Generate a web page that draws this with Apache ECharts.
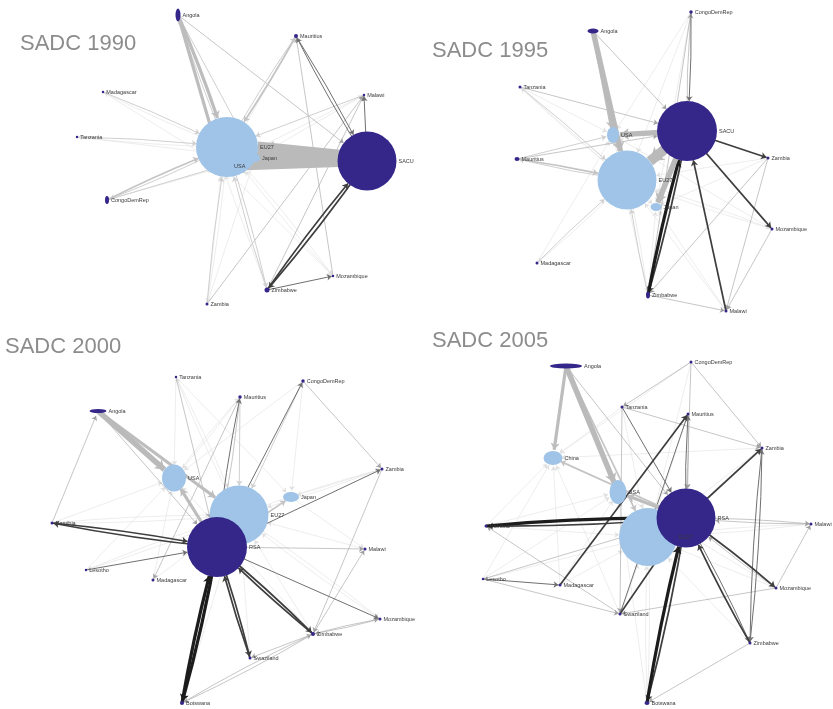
<!DOCTYPE html>
<html>
<head>
<meta charset="utf-8">
<script src="https://cdn.jsdelivr.net/npm/echarts@6/dist/echarts.min.js"></script>
<style>
  html, body { margin: 0; padding: 0; background: #ffffff; }
  #chart { width: 833px; height: 709px; }
</style>
</head>
<body>
<div id="chart"></div>
<script>
// Trade networks of the SADC region, four snapshot years.
const years = ['SADC 1990', 'SADC 1995', 'SADC 2000', 'SADC 2005'];

// Partners outside the region (drawn light blue); all others are SADC members.
const externalPartners = ['EU27', 'USA', 'Japan', 'China'];

// Node layout per year: [name, x, y, trade size (w, h)]
const nodes1990 = [
  ['EU27', 227, 147, 62, 60], ['USA', 222, 166, 20, 20], ['Japan', 255, 158, 10, 8],
  ['SACU', 367, 161, 59, 59], ['Angola', 178, 15, 5, 13], ['Mauritius', 296, 36, 4, 4],
  ['Madagascar', 103, 92, 2.5, 2.5], ['Malawi', 364, 95, 2.5, 2.5], ['Tanzania', 77, 137, 2.5, 2.5],
  ['CongoDemRep', 107, 200, 4, 8], ['Zimbabwe', 267, 290, 5, 5], ['Mozambique', 333, 276, 2.5, 2.5],
  ['Zambia', 207, 304, 3, 3]
];
const nodes1995 = [
  ['EU27', 207, 180, 59, 59], ['USA', 193, 135, 12, 16], ['Japan', 236, 207, 11, 8],
  ['SACU', 267, 131, 60, 60], ['Angola', 173, 31, 11, 5], ['CongoDemRep', 271, 12, 3.5, 3.5],
  ['Tanzania', 100, 87, 3, 3], ['Mauritius', 97, 159, 5, 4], ['Zambia', 348, 158, 3, 3],
  ['Mozambique', 352, 229, 3, 3], ['Madagascar', 117, 263, 3, 3], ['Zimbabwe', 228, 295, 4, 7],
  ['Malawi', 306, 311, 3, 3]
];
const nodes2000 = [
  ['EU27', 239, 195, 59, 59], ['RSA', 217, 227, 60, 60], ['USA', 174, 158, 24, 27],
  ['Japan', 291, 177, 16, 10], ['Angola', 98, 91, 17, 4], ['Tanzania', 176, 57, 2.5, 2.5],
  ['CongoDemRep', 303, 61, 3.5, 3.5], ['Mauritius', 240, 77, 3.5, 3.5], ['Zambia', 382, 149, 3, 3],
  ['Namibia', 52, 203, 3, 3], ['Malawi', 365, 229, 3, 3], ['Lesotho', 86, 250, 2.5, 2.5],
  ['Madagascar', 153, 260, 3, 3], ['Mozambique', 380, 299, 3, 3], ['Zimbabwe', 313, 314, 4, 4],
  ['Swaziland', 250, 338, 3, 3], ['Botswana', 182, 383, 4, 4]
];
const nodes2005 = [
  ['EU27', 228, 217, 58, 58], ['RSA', 266, 198, 59, 59], ['USA', 198, 172, 17, 24],
  ['China', 133, 138, 19, 14], ['Angola', 146, 46, 32, 5], ['CongoDemRep', 271, 42, 3, 3],
  ['Tanzania', 202, 87, 3, 3], ['Mauritius', 268, 94, 3, 3], ['Zambia', 342, 128, 3, 3],
  ['Namibia', 66, 206, 3, 3], ['Malawi', 391, 204, 3, 3], ['Lesotho', 63, 259, 2.5, 2.5],
  ['Madagascar', 140, 265, 3, 3], ['Mozambique', 356, 268, 3, 3], ['Swaziland', 200, 294, 3, 3],
  ['Zimbabwe', 330, 323, 3, 3], ['Botswana', 227, 383, 5, 4]
];

// Trade flows: [exporter, importer, weight class 1..7]
const links1990 = [
  ['SACU', 'EU27', 7], ['SACU', 'USA', 6], ['SACU', 'Japan', 5],
  ['Angola', 'EU27', 4], ['Angola', 'USA', 4], ['Angola', 'Japan', 2], ['Angola', 'SACU', 1],
  ['EU27', 'Angola', 2],
  ['Mauritius', 'EU27', 3], ['EU27', 'Mauritius', 2], ['Mauritius', 'USA', 1],
  ['Mauritius', 'SACU', 2], ['SACU', 'Mauritius', 2],
  ['Madagascar', 'EU27', 2], ['EU27', 'Madagascar', 1], ['Madagascar', 'USA', 1],
  ['Tanzania', 'EU27', 2], ['EU27', 'Tanzania', 1], ['Tanzania', 'Japan', 1],
  ['CongoDemRep', 'EU27', 3], ['EU27', 'CongoDemRep', 2], ['CongoDemRep', 'USA', 2], ['CongoDemRep', 'Japan', 1],
  ['Malawi', 'EU27', 2], ['Malawi', 'USA', 1], ['SACU', 'Malawi', 2], ['Japan', 'Malawi', 1],
  ['Zimbabwe', 'EU27', 2], ['EU27', 'Zimbabwe', 2], ['Zimbabwe', 'USA', 1],
  ['Zimbabwe', 'SACU', 3], ['SACU', 'Zimbabwe', 3],
  ['Zimbabwe', 'Mozambique', 2], ['Zimbabwe', 'Malawi', 1],
  ['Zambia', 'EU27', 2], ['EU27', 'Zambia', 1], ['Zambia', 'USA', 1], ['Zambia', 'Japan', 1], ['Zambia', 'Malawi', 1],
  ['Mozambique', 'EU27', 1], ['EU27', 'Mozambique', 1], ['USA', 'Mozambique', 1], ['Mozambique', 'Mauritius', 1]
];
const links1995 = [
  ['SACU', 'EU27', 6], ['SACU', 'USA', 5], ['SACU', 'Japan', 5],
  ['Angola', 'EU27', 5], ['Angola', 'USA', 4], ['Angola', 'SACU', 1],
  ['CongoDemRep', 'SACU', 2], ['SACU', 'CongoDemRep', 1], ['CongoDemRep', 'EU27', 1],
  ['CongoDemRep', 'USA', 1], ['CongoDemRep', 'Japan', 1], ['CongoDemRep', 'Zimbabwe', 1],
  ['Tanzania', 'SACU', 1], ['Tanzania', 'EU27', 2], ['EU27', 'Tanzania', 1], ['Tanzania', 'USA', 1], ['Tanzania', 'Japan', 1],
  ['Mauritius', 'EU27', 3], ['EU27', 'Mauritius', 2], ['Mauritius', 'USA', 2], ['Mauritius', 'SACU', 1],
  ['SACU', 'Zambia', 3], ['Zambia', 'EU27', 1], ['Zambia', 'Japan', 1], ['Zambia', 'Zimbabwe', 1],
  ['SACU', 'Mozambique', 3], ['Mozambique', 'EU27', 1], ['EU27', 'Mozambique', 1], ['Mozambique', 'USA', 1],
  ['Madagascar', 'EU27', 2], ['EU27', 'Madagascar', 1], ['Madagascar', 'USA', 1],
  ['Zimbabwe', 'SACU', 4], ['SACU', 'Zimbabwe', 3], ['Zimbabwe', 'EU27', 2], ['EU27', 'Zimbabwe', 1],
  ['Zimbabwe', 'USA', 1], ['Zimbabwe', 'Japan', 1], ['Zimbabwe', 'Malawi', 1],
  ['Malawi', 'SACU', 3], ['Malawi', 'EU27', 1], ['Malawi', 'Japan', 1],
  ['Mozambique', 'Malawi', 1], ['Zambia', 'Malawi', 1]
];
const links2000 = [
  ['RSA', 'EU27', 5], ['RSA', 'USA', 4], ['RSA', 'Japan', 3],
  ['Angola', 'USA', 5], ['Angola', 'EU27', 4], ['Angola', 'RSA', 1], ['Namibia', 'Angola', 1],
  ['Tanzania', 'EU27', 1], ['Tanzania', 'RSA', 1], ['Tanzania', 'Japan', 1], ['Tanzania', 'USA', 1],
  ['Mauritius', 'EU27', 2], ['Mauritius', 'USA', 1], ['RSA', 'Mauritius', 2], ['Mauritius', 'RSA', 1],
  ['Mauritius', 'Madagascar', 1],
  ['CongoDemRep', 'EU27', 2], ['RSA', 'CongoDemRep', 2], ['CongoDemRep', 'Zambia', 1],
  ['CongoDemRep', 'Japan', 1], ['CongoDemRep', 'USA', 1],
  ['Zambia', 'EU27', 1], ['RSA', 'Zambia', 2], ['Zambia', 'Japan', 1], ['Zambia', 'Zimbabwe', 1],
  ['Namibia', 'RSA', 3], ['RSA', 'Namibia', 3], ['Namibia', 'EU27', 1], ['Namibia', 'USA', 1],
  ['Lesotho', 'RSA', 2], ['Lesotho', 'USA', 1], ['Lesotho', 'EU27', 1],
  ['Madagascar', 'EU27', 1], ['Madagascar', 'USA', 1],
  ['RSA', 'Malawi', 1], ['Malawi', 'EU27', 1], ['Zimbabwe', 'Malawi', 1],
  ['RSA', 'Mozambique', 2], ['Mozambique', 'EU27', 1], ['Zimbabwe', 'Mozambique', 1], ['Mozambique', 'Zimbabwe', 1],
  ['Zimbabwe', 'RSA', 3], ['RSA', 'Zimbabwe', 3], ['Zimbabwe', 'EU27', 1], ['Zimbabwe', 'USA', 1],
  ['Zimbabwe', 'Botswana', 1], ['Zimbabwe', 'Swaziland', 1],
  ['Swaziland', 'RSA', 3], ['RSA', 'Swaziland', 3], ['Swaziland', 'EU27', 1],
  ['Botswana', 'RSA', 4], ['RSA', 'Botswana', 4], ['Botswana', 'EU27', 1], ['Botswana', 'Zimbabwe', 1],
  ['EU27', 'Mozambique', 1], ['EU27', 'Zambia', 1], ['EU27', 'Tanzania', 1], ['EU27', 'Lesotho', 1],
  ['EU27', 'Namibia', 1], ['USA', 'Mauritius', 1], ['Japan', 'Malawi', 1]
];
const links2005 = [
  ['RSA', 'EU27', 5], ['RSA', 'USA', 4], ['RSA', 'China', 3],
  ['Angola', 'China', 4], ['Angola', 'USA', 5], ['Angola', 'EU27', 3], ['Angola', 'RSA', 1],
  ['Namibia', 'China', 1], ['Madagascar', 'China', 1], ['Swaziland', 'China', 1], ['Tanzania', 'China', 1],
  ['CongoDemRep', 'China', 1], ['Zambia', 'China', 1], ['Lesotho', 'China', 1],
  ['Namibia', 'RSA', 4], ['RSA', 'Namibia', 3], ['Namibia', 'EU27', 1], ['Namibia', 'USA', 1],
  ['Lesotho', 'RSA', 1], ['Lesotho', 'Madagascar', 2], ['Lesotho', 'Swaziland', 1], ['Lesotho', 'USA', 1],
  ['Madagascar', 'EU27', 1], ['Madagascar', 'USA', 1], ['Madagascar', 'Mauritius', 3],
  ['Tanzania', 'RSA', 2], ['Tanzania', 'Zambia', 1], ['Tanzania', 'Swaziland', 1], ['Tanzania', 'EU27', 1],
  ['Mauritius', 'RSA', 1], ['RSA', 'Mauritius', 2], ['Mauritius', 'EU27', 1], ['Swaziland', 'Mauritius', 2],
  ['CongoDemRep', 'Zambia', 1], ['CongoDemRep', 'RSA', 1], ['CongoDemRep', 'Tanzania', 1], ['CongoDemRep', 'EU27', 1],
  ['RSA', 'Zambia', 3], ['Zambia', 'Zimbabwe', 2], ['Zimbabwe', 'Zambia', 2], ['Zambia', 'EU27', 1],
  ['Malawi', 'RSA', 1], ['RSA', 'Malawi', 1], ['Mozambique', 'Malawi', 1], ['Malawi', 'EU27', 1],
  ['RSA', 'Mozambique', 3], ['Mozambique', 'RSA', 1], ['Mozambique', 'Swaziland', 1], ['Mozambique', 'EU27', 1],
  ['Zimbabwe', 'RSA', 3], ['RSA', 'Zimbabwe', 2], ['Zimbabwe', 'Botswana', 1], ['Zimbabwe', 'EU27', 1],
  ['Swaziland', 'RSA', 3], ['Swaziland', 'EU27', 1], ['Swaziland', 'Namibia', 1],
  ['Botswana', 'RSA', 4], ['RSA', 'Botswana', 3], ['Botswana', 'EU27', 1], ['Botswana', 'USA', 1],
  ['EU27', 'Lesotho', 1], ['EU27', 'Malawi', 1], ['USA', 'Mozambique', 1], ['EU27', 'Botswana', 1]
];

const panelNodes = [nodes1990, nodes1995, nodes2000, nodes2005];
const panelLinks = [links1990, links1995, links2000, links2005];

// Panel frames on the page: [left, top, width, height]
const frames = [[0, 0, 420, 320], [420, 0, 413, 320], [0, 320, 420, 389], [420, 320, 413, 389]];
// Title anchors inside each frame: [left, top]
const titleAt = [[20, 33], [12, 40], [5, 16], [12, 10]];

const DARK = '#35278a';
const LIGHT = '#9fc4e8';
const widthByClass = [0, 0.6, 1.0, 1.7, 3.2, 5.5, 10, 17];
const extColor = ['', '#e0e0e0', '#d0d0d0', '#c4c4c4', '#bdbdbd', '#bababa', '#bababa', '#bababa'];
const memColor = ['', '#a0a0a0', '#707070', '#3e3e3e', '#1c1c1c', '#111111', '#111111', '#111111'];

function isExternal(name) { return externalPartners.indexOf(name) >= 0; }

function buildSeries(i) {
  const data = panelNodes[i].map(function (n) {
    return {
      name: n[0],
      value: [n[1], n[2]],
      symbolSize: [n[3], n[4]],
      itemStyle: { color: isExternal(n[0]) ? LIGHT : DARK }
    };
  });
  const flows = panelLinks[i];
  const pairKey = {};
  flows.forEach(function (l) { pairKey[l[0] + '>' + l[1]] = true; });
  // light links first so heavier/darker flows sit on top
  const sorted = flows.slice().sort(function (a, b) {
    const ea = (isExternal(a[0]) || isExternal(a[1])) ? 0 : 1;
    const eb = (isExternal(b[0]) || isExternal(b[1])) ? 0 : 1;
    return (a[2] - b[2]) + (ea - eb) * 0.1;
  });
  const links = sorted.map(function (l) {
    const ext = isExternal(l[0]) || isExternal(l[1]);
    const w = widthByClass[l[2]];
    const reciprocal = pairKey[l[1] + '>' + l[0]];
    return {
      source: l[0],
      target: l[1],
      symbolSize: [0, Math.min(4 + w * 0.9, 16)],
      lineStyle: {
        width: w,
        color: ext ? extColor[l[2]] : memColor[l[2]],
        opacity: 1,
        curveness: reciprocal ? 0.025 : 0
      }
    };
  });
  return {
    type: 'graph',
    coordinateSystem: 'cartesian2d',
    xAxisIndex: i,
    yAxisIndex: i,
    data: data,
    links: links,
    edgeSymbol: ['none', 'arrow'],
    edgeSymbolSize: [0, 4],
    symbol: 'circle',
    silent: true,
    label: {
      show: true,
      position: 'right',
      distance: 2,
      fontSize: 5.5,
      color: '#3a3a3a',
      fontFamily: 'Liberation Sans, Arial, sans-serif'
    },
    lineStyle: { curveness: 0, opacity: 1 },
    emphasis: { disabled: true }
  };
}

const grids = frames.map(function (f) {
  return { left: f[0], top: f[1], width: f[2], height: f[3], containLabel: false };
});
const xAxes = frames.map(function (f, i) {
  return { gridIndex: i, type: 'value', min: 0, max: f[2], show: false };
});
const yAxes = frames.map(function (f, i) {
  return { gridIndex: i, type: 'value', min: 0, max: f[3], inverse: true, show: false };
});
const titles = years.map(function (t, i) {
  return {
    text: t,
    left: frames[i][0] + titleAt[i][0],
    top: frames[i][1] + titleAt[i][1],
    padding: 0,
    textStyle: { fontSize: 22, fontWeight: 'normal', color: '#8c8c8c', fontFamily: 'Liberation Sans, Arial, sans-serif' }
  };
});

const chart = echarts.init(document.getElementById('chart'), null, { renderer: 'canvas' });
chart.setOption({
  backgroundColor: '#ffffff',
  animation: false,
  title: titles,
  grid: grids,
  xAxis: xAxes,
  yAxis: yAxes,
  series: [0, 1, 2, 3].map(buildSeries)
});
</script>
</body>
</html>
